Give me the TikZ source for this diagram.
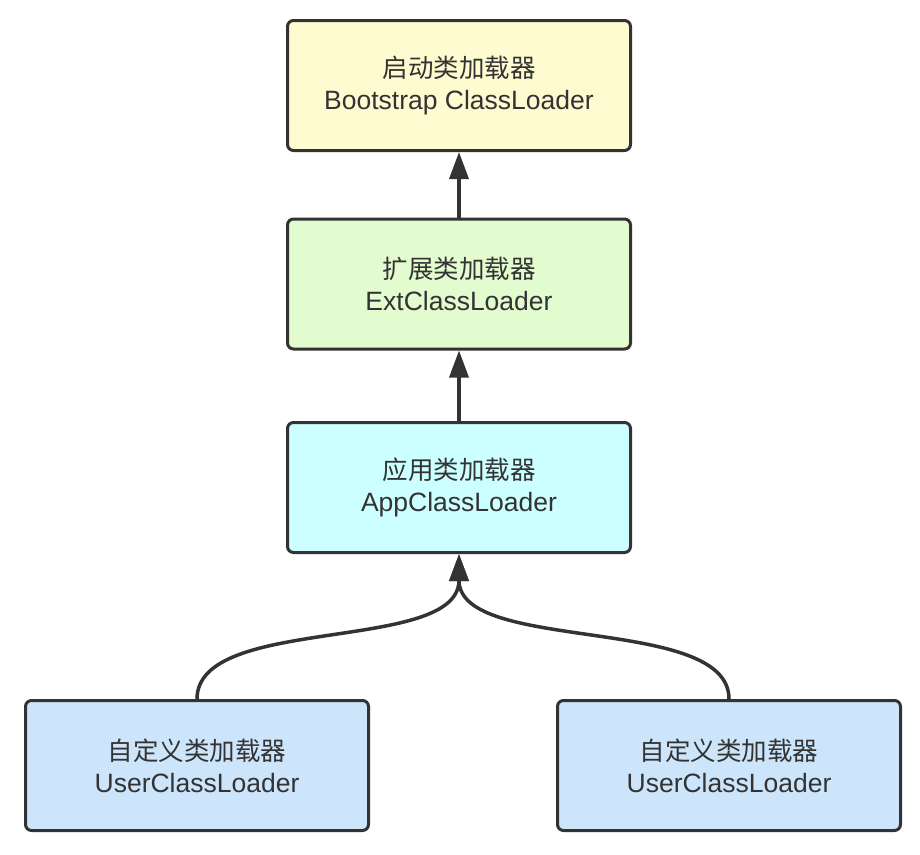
\documentclass[tikz,border=0pt]{standalone}
\usepackage{fontspec}
\setmainfont{Liberation Sans}
\newfontfamily\cjk{Noto Sans CJK SC}
\usetikzlibrary{arrows.meta,calc}
\definecolor{ink}{HTML}{333333}
\definecolor{cA}{HTML}{FFFBD1}
\definecolor{cB}{HTML}{E3FCCF}
\definecolor{cC}{HTML}{CCFFFF}
\definecolor{cD}{HTML}{CCE5FB}
\newcommand{\zh}[1]{{\cjk\fontsize{25.5}{31}\selectfont #1}}
\tikzset{
  box/.style={draw=ink, line width=3pt, rounded corners=6pt, minimum width=343pt, minimum height=130pt,
    inner sep=0pt, align=center, text=ink, font=\fontsize{26.5}{31}\selectfont},
  arr/.style={draw=ink, line width=3.5pt, -{Triangle[length=27pt,width=19pt]}}
}
\begin{document}
\begin{tikzpicture}[x=1pt,y=-1pt]
\useasboundingbox (0,0) rectangle (920,854);
\node[box, fill=cA] (b1) at (459,85.5) {\zh{启动类加载器}\\[1pt]Bootstrap ClassLoader};
\node[box, fill=cB] (b2) at (459,284) {\zh{扩展类加载器}\\[1pt]ExtClassLoader};
\node[box, fill=cC] (b3) at (459,487.5) {\zh{应用类加载器}\\[1pt]AppClassLoader};
\node[box, fill=cD] (bl) at (197,765.5) {\zh{自定义类加载器}\\[1pt]UserClassLoader};
\node[box, fill=cD] (br) at (729,765.5) {\zh{自定义类加载器}\\[1pt]UserClassLoader};
\draw[arr] (b2.north) -- (b1.south);
\draw[arr] (b3.north) -- (b2.south);
\draw[arr] (bl.north) .. controls ($(bl.north)+(0,-85)$) and ($(b3.south)+(0,100)$) .. (b3.south);
\draw[arr] (br.north) .. controls ($(br.north)+(0,-85)$) and ($(b3.south)+(0,100)$) .. (b3.south);
\end{tikzpicture}
\end{document}
